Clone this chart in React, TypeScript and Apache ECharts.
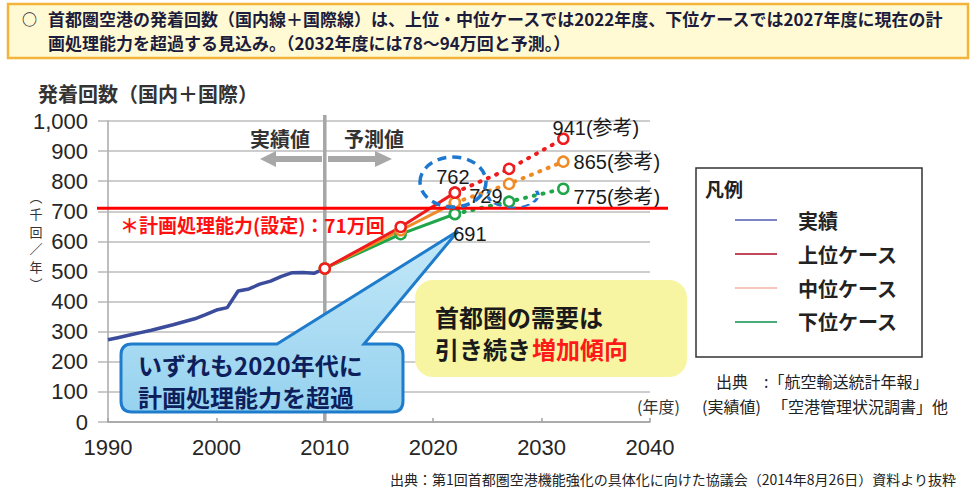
import React, { useEffect, useRef } from 'react';
import * as echarts from 'echarts';

// ---- data ----
const actualYears = [1990, 1991, 1992, 1993, 1994, 1995, 1996, 1997, 1998, 1999, 2000, 2001, 2002, 2003, 2004, 2005, 2006, 2007, 2008, 2009, 2010];
const actualValues = [273, 281, 289, 297, 305, 314, 323, 333, 343, 357, 372, 380, 435, 442, 458, 468, 484, 496, 497, 494, 510];

const forecastYears = [2010, 2017, 2022];
const referenceYears = [2022, 2027, 2032];

const upperForecast = [510, 648, 762];
const upperReference = [762, 841, 941];
const middleForecast = [510, 637, 729];
const middleReference = [729, 791, 865];
const lowerForecast = [510, 624, 691];
const lowerReference = [691, 732, 775];

const capacityValue = 710;
const xMinYear = 1990;
const xMaxYear = 2040;
const xStep = 10;
const yMax = 1000;
const yStep = 100;

const seriesNames = ['実績', '上位ケース', '中位ケース', '下位ケース'];
const yNameChars = ['︵', '千', '回', '／', '年', '︶'];

// ---- styles ----
const JP = '"Noto Sans CJK JP", "Noto Sans", sans-serif';
const NUM = '"Liberation Sans", Arial, "Noto Sans CJK JP", sans-serif';
const RED = '#ee1c1c';
const ORANGE = '#f08a24';
const GREEN = '#1fa64a';
const BLUE = '#3c4c9c';
const legendSwatch = ['#7c84c4', '#c04858', '#f8c4bc', '#4aaa7a'];

const pairs = (xs: number[], ys: number[]) => xs.map((x, i) => [x, ys[i]]);
const withLabel = (xs: number[], ys: number[], idx: number, label: any) =>
  xs.map((x, i) => (i === idx ? { value: [x, ys[i]], label } : [x, ys[i]]));

const labelBase = { show: true, fontFamily: NUM, fontSize: 20, color: '#1a1a1a' };

function caseSeries(name: string, color: string, fc: number[], ref: number[], fcLabel: any, refLabel: any) {
  const marker = { color: '#ffffff', borderColor: color, borderWidth: 2.5 };
  return [
    {
      name, type: 'line', data: withLabel(forecastYears, fc, 2, { ...labelBase, ...fcLabel }),
      symbol: 'circle', symbolSize: 10, itemStyle: marker,
      lineStyle: { color, width: 3 }, color, z: 3,
    },
    {
      name, type: 'line', data: withLabel(referenceYears, ref, 2, { ...labelBase, ...refLabel }),
      symbol: 'circle', symbolSize: 10, itemStyle: marker,
      lineStyle: { color, width: 4, type: [1, 8], cap: 'round' }, color, z: 3,
    },
  ];
}

const calloutPath =
  'M132,344 L277,344 L458,231 L364,344 L392,344 Q403,344 403,355 L403,401 Q403,412 392,412 L132,412 Q121,412 121,401 L121,355 Q121,344 132,344 Z';

export default function App() {
  const ref = useRef<HTMLDivElement>(null);

  useEffect(() => {
    if (!ref.current) return;
    echarts.graphic.registerShape('calloutBlue', echarts.graphic.extendPath(calloutPath, {}) as any);
    const chart = echarts.init(ref.current, null, { renderer: 'svg' });

    const option: any = {
      animation: false,
      backgroundColor: '#ffffff',
      grid: { left: 108, right: 326, top: 121, bottom: 66, containLabel: false },
      xAxis: {
        type: 'value', min: xMinYear, max: xMaxYear, interval: xStep,
        axisLine: { show: true, lineStyle: { color: '#a0a0a0', width: 1.5 } },
        axisTick: { show: true, inside: true, length: 4, lineStyle: { color: '#a0a0a0', width: 1.5 } },
        splitLine: { show: false },
        axisLabel: { fontFamily: NUM, fontSize: 22, color: '#262626', margin: 14, formatter: (v: number) => String(v) },
      },
      yAxis: {
        type: 'value', min: 0, max: yMax, interval: yStep,
        axisLine: { show: true, lineStyle: { color: '#a8a8a8', width: 1.5 } },
        axisTick: { show: true, inside: false, length: 10, lineStyle: { color: '#b8b8b8', width: 1.5 } },
        splitLine: { show: true, lineStyle: { color: '#bdbdbd', width: 1.5 } },
        axisLabel: {
          fontFamily: NUM, fontSize: 22, color: '#262626', margin: 20,
          formatter: (v: number) => String(v).replace(/\B(?=(\d{3})+(?!\d))/g, ','),
        },
      },
      legend: {
        orient: 'vertical', left: 730, top: 205, itemWidth: 42, itemHeight: 2, itemGap: 14,
        icon: 'rect', selectedMode: false,
        textStyle: { fontFamily: JP, fontSize: 20, fontWeight: 'bold', color: '#222', padding: [0, 0, 0, 16] },
        data: seriesNames.map((name, i) => ({
          name,
          itemStyle: { color: legendSwatch[i], borderWidth: 0 },
          lineStyle: { color: legendSwatch[i], width: 2 },
        })),
      },
      series: [
        {
          name: seriesNames[0], type: 'line', data: pairs(actualYears, actualValues),
          showSymbol: false, symbol: 'none', lineStyle: { color: BLUE, width: 3.5 }, color: BLUE, z: 3,
        },
        ...caseSeries(seriesNames[3], GREEN, lowerForecast, lowerReference,
          { position: 'bottom', distance: 4, offset: [15, 0] },
          { position: 'right', distance: 4, offset: [0, 8], formatter: (p: any) => `${p.value[1]}(参考)` }),
        ...caseSeries(seriesNames[2], ORANGE, middleForecast, middleReference,
          { position: 'right', distance: 4, offset: [4, -7] },
          { position: 'right', distance: 4, offset: [0, 0], formatter: (p: any) => `${p.value[1]}(参考)` }),
        ...caseSeries(seriesNames[1], RED, upperForecast, upperReference,
          { position: 'top', distance: 4, offset: [-2, 5] },
          { position: 'right', distance: 4, offset: [-21, -11], formatter: (p: any) => `${p.value[1]}(参考)` }),
      ],
    };
    chart.setOption(option);

    const px = (x: number, y: number) => chart.convertToPixel({ gridIndex: 0 }, [x, y]) as number[];
    const [x2010, yTop] = px(2010, yMax);
    const [, yBottom] = px(2010, 0);
    const [xLeft, yCap] = px(xMinYear, capacityValue);
    const [xRight] = px(xMaxYear, capacityValue);

    const yNameTexts = yNameChars.map((ch, i) => ({
      type: 'text', z: 6, x: 36, y: 196 + i * 17.5,
      style: { text: ch, font: `13px ${JP}`, fill: '#333', align: 'center', verticalAlign: 'middle' },
    }));

    const graphic: any[] = [
      // banner
      { type: 'rect', z: 5, shape: { x: 8, y: 4, width: 960, height: 54 }, style: { fill: '#fffad4', stroke: '#f2b43a', lineWidth: 2.5 } },
      { type: 'text', z: 6, x: 22, y: 18, style: { text: '○', font: `bold 15px ${JP}`, fill: '#1c1c3c', verticalAlign: 'middle' } },
      { type: 'text', z: 6, x: 48, y: 18, style: { text: '首都圏空港の発着回数（国内線＋国際線）は、上位・中位ケースでは2022年度、下位ケースでは2027年度に現在の計', font: `bold 17px ${JP}`, fill: '#1c1c3c', verticalAlign: 'middle' } },
      { type: 'text', z: 6, x: 48, y: 42, style: { text: '画処理能力を超過する見込み。（2032年度には78～94万回と予測。）', font: `bold 17px ${JP}`, fill: '#1c1c3c', verticalAlign: 'middle' } },
      // title
      { type: 'text', z: 6, x: 38, y: 93, style: { text: '発着回数（国内＋国際）', font: `bold 20px ${JP}`, fill: '#333', verticalAlign: 'middle' } },
      // y axis name (vertical)
      ...yNameTexts,
      // 2010 divider
      { type: 'line', z: 1, shape: { x1: x2010, y1: yTop - 6, x2: x2010, y2: yBottom }, style: { stroke: '#a6a6a6', lineWidth: 3.5 } },
      // arrows
      { type: 'polygon', z: 1, shape: { points: [[322, 156], [276, 156], [276, 151], [260, 159], [276, 167], [276, 162], [322, 162]] }, style: { fill: '#a8a8a8' } },
      { type: 'polygon', z: 1, shape: { points: [[328, 156], [375, 156], [375, 151], [392, 159], [375, 167], [375, 162], [328, 162]] }, style: { fill: '#a8a8a8' } },
      { type: 'text', z: 6, x: 280, y: 138, style: { text: '実績値', font: `bold 20px ${JP}`, fill: '#333', align: 'center', verticalAlign: 'middle' } },
      { type: 'text', z: 6, x: 374, y: 138, style: { text: '予測値', font: `bold 20px ${JP}`, fill: '#333', align: 'center', verticalAlign: 'middle' } },
      // capacity line
      { type: 'line', z: 4, shape: { x1: xLeft - 11, y1: yCap, x2: xRight + 18, y2: yCap }, style: { stroke: '#ff0000', lineWidth: 3 } },
      { type: 'text', z: 6, x: 120, y: 224, style: { text: '＊計画処理能力(設定)：71万回', font: `bold 19px ${JP}`, fill: '#ff1010', verticalAlign: 'middle' } },
      // dashed highlight ellipses
      { type: 'ellipse', z: 4, shape: { cx: 453, cy: 182, rx: 33, ry: 25 }, style: { fill: 'none', stroke: '#1f78d0', lineWidth: 3.5, lineDash: [9, 6] } },
      { type: 'arc', z: 4, x: 513, y: 195, scaleY: 0.5, shape: { cx: 0, cy: 0, r: 25, startAngle: -0.35, endAngle: Math.PI + 0.35, clockwise: true }, style: { fill: 'none', stroke: '#1f78d0', lineWidth: 3.5, lineDash: [9, 6], strokeNoScale: true } },
      // legend box
      { type: 'rect', z: 0, shape: { x: 696, y: 168, width: 226, height: 189 }, style: { fill: '#ffffff', stroke: '#333', lineWidth: 1.5 } },
      { type: 'text', z: 6, x: 705, y: 188, style: { text: '凡例', font: `bold 19px ${JP}`, fill: '#222', verticalAlign: 'middle' } },
      // yellow callout
      { type: 'rect', z: 1, shape: { x: 415, y: 280, width: 272, height: 97, r: 18 }, style: { fill: '#f7f5a1' } },
      { type: 'text', z: 6, x: 435, y: 316, style: { text: '首都圏の需要は', font: `bold 24px ${JP}`, fill: '#1a1a1a', verticalAlign: 'middle' } },
      { type: 'text', z: 6, x: 435, y: 348, style: { text: '引き続き', font: `bold 24px ${JP}`, fill: '#1a1a1a', verticalAlign: 'middle' } },
      { type: 'text', z: 6, x: 532, y: 348, style: { text: '増加傾向', font: `bold 24px ${JP}`, fill: '#ff1a1a', verticalAlign: 'middle' } },
      // blue callout
      {
        type: 'calloutBlue', z: 1, x: 0, y: 0,
        style: {
          fill: new echarts.graphic.LinearGradient(0, 0, 0, 1, [
            { offset: 0, color: '#c4e8f8' }, { offset: 1, color: '#96d2ef' },
          ]),
          stroke: '#1f7ccc', lineWidth: 3,
        },
      },
      { type: 'text', z: 6, x: 138, y: 364, style: { text: 'いずれも2020年代に', font: `bold 24px ${JP}`, fill: '#0d1f5c', verticalAlign: 'middle' } },
      { type: 'text', z: 6, x: 138, y: 396, style: { text: '計画処理能力を超過', font: `bold 24px ${JP}`, fill: '#0d1f5c', verticalAlign: 'middle' } },
      // sources
      { type: 'text', z: 6, x: 716, y: 381, style: { text: '出典', font: `16px ${JP}`, fill: '#222', verticalAlign: 'middle' } },
      { type: 'text', z: 6, x: 764, y: 381, style: { text: ':「航空輸送統計年報」', font: `16px ${JP}`, fill: '#222', verticalAlign: 'middle' } },
      { type: 'text', z: 6, x: 637, y: 406, style: { text: '(年度)', font: `16px ${JP}`, fill: '#333', verticalAlign: 'middle' } },
      { type: 'text', z: 6, x: 702, y: 406, style: { text: '(実績値)', font: `16px ${JP}`, fill: '#222', verticalAlign: 'middle' } },
      { type: 'text', z: 6, x: 772, y: 406, style: { text: '「空港管理状況調書」他', font: `16px ${JP}`, fill: '#222', verticalAlign: 'middle' } },
      { type: 'text', z: 6, x: 390, y: 479, style: { text: '出典：第1回首都圏空港機能強化の具体化に向けた協議会（2014年8月26日）資料より抜粋', font: `14px ${JP}`, fill: '#222', verticalAlign: 'middle' } },
    ];
    chart.setOption({ graphic });

    return () => chart.dispose();
  }, []);

  return <div ref={ref} style={{ position: 'fixed', left: 0, top: 0, width: 976, height: 488 }} />;
}
